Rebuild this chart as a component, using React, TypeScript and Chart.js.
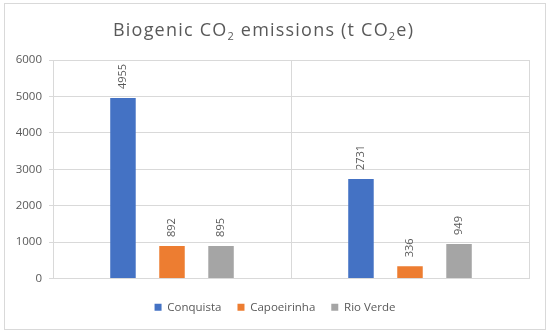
import React, { useEffect, useRef } from "react";
import { Chart, registerables } from "chart.js";

Chart.register(...registerables);

// ---- data ----
const CATEGORIES = ["", ""];
const SERIES_NAMES = ["Conquista", "Capoeirinha", "Rio Verde"];
const CONQUISTA = [4955, 2731];
const CAPOEIRINHA = [892, 336];
const RIO_VERDE = [895, 949];
const SERIES_VALUES = [CONQUISTA, CAPOEIRINHA, RIO_VERDE];
const COLORS = ["#4472C4", "#ED7D31", "#A5A5A5"];
const Y_MIN = 0;
const Y_MAX = 6000;
const Y_STEP = 1000;
const TITLE_PARTS = [
  { text: "Biogenic CO", sub: false },
  { text: "2", sub: true },
  { text: " emissions (t CO", sub: false },
  { text: "2", sub: true },
  { text: "e)", sub: false },
];

const FONT = "'Open Sans', 'DejaVu Sans', sans-serif";
const TEXT_COLOR = "#595959";
const GRID_COLOR = "#d9d9d9";

const framePlugin = {
  id: "frame",
  beforeDraw(chart: any) {
    const ctx = chart.ctx;
    ctx.save();
    ctx.fillStyle = "#ffffff";
    ctx.fillRect(0, 0, chart.width, chart.height);
    ctx.strokeStyle = GRID_COLOR;
    ctx.lineWidth = 1;
    ctx.strokeRect(4.5, 3.5, chart.width - 9, chart.height - 7);
    ctx.restore();
  },
};

const titlePlugin = {
  id: "subTitle",
  afterDraw(chart: any) {
    const ctx = chart.ctx;
    ctx.save();
    ctx.fillStyle = TEXT_COLOR;
    ctx.textAlign = "left";
    ctx.textBaseline = "alphabetic";
    const mainFont = `18px ${FONT}`;
    const subFont = `11px ${FONT}`;
    let natural = 0;
    let n = 0;
    (ctx as any).letterSpacing = "0px";
    TITLE_PARTS.forEach((p) => {
      ctx.font = p.sub ? subFont : mainFont;
      natural += ctx.measureText(p.text).width;
      n += p.text.length;
    });
    const target = 300;
    const spacing = Math.max(0, (target - natural) / (n - 1));
    (ctx as any).letterSpacing = `${spacing}px`;
    let x = chart.width / 2 - 12 - target / 2;
    const baseline = 36;
    TITLE_PARTS.forEach((p) => {
      ctx.font = p.sub ? subFont : mainFont;
      ctx.fillText(p.text, x, p.sub ? baseline + 4 : baseline);
      x += ctx.measureText(p.text).width;
    });
    ctx.restore();
  },
};

const labelPlugin = {
  id: "barLabels",
  afterDatasetsDraw(chart: any) {
    const ctx = chart.ctx;
    ctx.save();
    ctx.font = `11px ${FONT}`;
    ctx.fillStyle = TEXT_COLOR;
    ctx.textAlign = "left";
    ctx.textBaseline = "middle";
    chart.data.datasets.forEach((ds: any, di: number) => {
      const meta = chart.getDatasetMeta(di);
      meta.data.forEach((bar: any, i: number) => {
        const v = ds.data[i];
        ctx.save();
        ctx.translate(bar.x, bar.y - 9);
        ctx.rotate(-Math.PI / 2);
        ctx.fillText(String(v), 0, 0);
        ctx.restore();
      });
    });
    ctx.restore();
  },
};

export default function App() {
  const canvasRef = useRef<HTMLCanvasElement | null>(null);

  useEffect(() => {
    document.body.style.margin = "0";
    const canvas = canvasRef.current;
    if (!canvas) return;
    Chart.defaults.font.family = FONT;
    const chart = new Chart(canvas, {
      type: "bar",
      data: {
        labels: CATEGORIES,
        datasets: SERIES_NAMES.map((name, i) => ({
          label: name,
          data: SERIES_VALUES[i],
          backgroundColor: COLORS[i],
          borderWidth: 0,
          categoryPercentage: 0.618,
          barPercentage: 0.52,
        })),
      },
      options: {
        animation: false,
        responsive: true,
        maintainAspectRatio: false,
        layout: { padding: { top: 60, right: 0, bottom: 10, left: 0 } },
        plugins: {
          title: { display: false },
          tooltip: { enabled: false },
          legend: {
            position: "bottom",
            labels: {
              boxWidth: 7,
              boxHeight: 7,
              padding: 16,
              color: TEXT_COLOR,
              font: { size: 11.5, family: FONT },
            },
          },
        },
        scales: {
          x: {
            offset: true,
            grid: { offset: true, color: GRID_COLOR, drawTicks: false },
            border: { color: GRID_COLOR },
            ticks: { display: false },
            afterFit: (s: any) => {
              s.height = 7;
            },
          },
          y: {
            min: Y_MIN,
            max: Y_MAX,
            ticks: {
              stepSize: Y_STEP,
              color: TEXT_COLOR,
              padding: 7,
              font: { size: 11.5, family: FONT },
              callback: (v: any) => String(v),
            },
            grid: { color: GRID_COLOR, tickLength: 4 },
            border: { display: false },
            afterFit: (s: any) => {
              s.width = 53;
            },
          },
          yRight: {
            position: "right",
            min: Y_MIN,
            max: Y_MAX,
            ticks: { display: false },
            grid: { display: false },
            border: { display: false },
            afterFit: (s: any) => {
              s.width = 21;
            },
          },
        },
      },
      plugins: [framePlugin, titlePlugin, labelPlugin],
    });
    return () => chart.destroy();
  }, []);

  return (
    <div style={{ position: "relative", width: 550, height: 333 }}>
      <canvas ref={canvasRef} />
    </div>
  );
}
